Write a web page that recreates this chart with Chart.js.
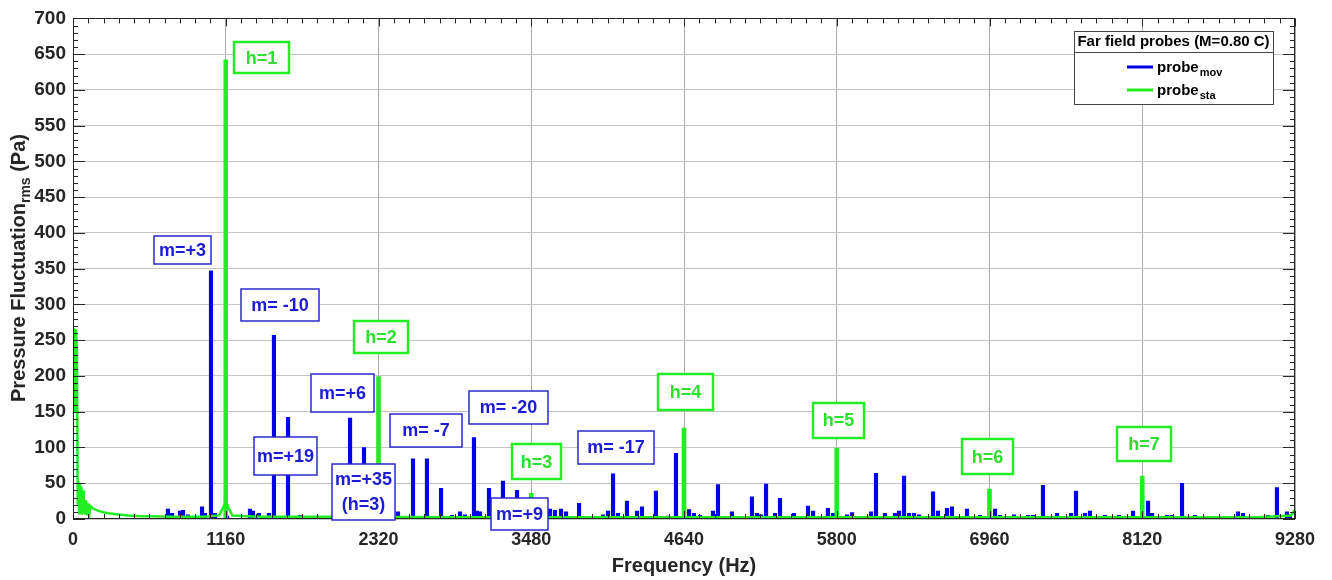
<!DOCTYPE html>
<html>
<head>
<meta charset="utf-8">
<script src="https://cdn.jsdelivr.net/npm/chart.js@4.4.1/dist/chart.umd.min.js"></script>
<style>
  html, body { margin: 0; padding: 0; background: #fff; }
  #wrap { width: 1332px; height: 580px; position: relative; }
</style>
</head>
<body>
<div id="wrap"><canvas id="spectrum"></canvas></div>
<script>
// tick labels
const xTicks = [0, 1160, 2320, 3480, 4640, 5800, 6960, 8120, 9280];
const yTicks = [0, 50, 100, 150, 200, 250, 300, 350, 400, 450, 500, 550, 600, 650, 700];

// probe_mov (blue) tonal peaks, Hz / Pa
const movFreq = [721, 752, 813, 835, 873, 980, 1002, 1048, 1078, 1170, 1344, 1367, 1412, 1488, 1526, 1633, 1724,
  2104, 2210, 2468, 2582, 2688, 2795, 2878, 2939, 2977, 3045, 3068, 3091, 3159, 3265, 3372,
  3622, 3660, 3706, 3744, 3843, 4025, 4063, 4101, 4139, 4207, 4283, 4321, 4427, 4519, 4579, 4678, 4716, 4762,
  4860, 4898, 5004, 5156, 5194, 5225, 5263, 5331, 5369, 5475, 5582, 5620, 5733, 5771, 5878, 5916,
  6060, 6098, 6166, 6242, 6273, 6311, 6349, 6387, 6425, 6531, 6569, 6637, 6675, 6789, 6888, 7002, 7040, 7146,
  7252, 7290, 7366, 7473, 7579, 7617, 7685, 7723, 7837, 7943, 8050, 8164, 8194, 8308, 8346, 8422, 8520,
  8847, 8885, 9075, 9143, 9219, 9242];
const movAmp = [14, 8, 11, 12, 6, 17, 8, 347, 8, 4, 14, 11, 8, 8, 257, 142, 5,
  141, 100, 10, 84, 84, 43, 5, 10, 6, 114, 11, 10, 43, 53, 40,
  14, 12, 14, 10, 22, 6, 11, 63, 8, 25, 11, 17, 39, 4, 92, 13, 8, 5,
  11, 48, 10, 31, 8, 6, 49, 8, 29, 8, 18, 11, 15, 8, 6, 9,
  10, 64, 8, 8, 11, 60, 8, 8, 6, 38, 11, 15, 17, 14, 5, 14, 5, 6,
  5, 5, 47, 8, 8, 39, 8, 11, 5, 5, 11, 25, 8, 5, 5, 50, 5,
  10, 8, 5, 44, 10, 6];

// probe_sta (green) harmonics h=1..7
const staPeakFreq = [1160, 2320, 3480, 4640, 5800, 6960, 8120];
const staPeakAmp = [642, 199, 36, 127, 99, 42, 60];

// probe_sta broadband part (low-frequency content and floor)
const staFloorFreq = [0, 10, 16, 22, 30, 36, 40, 46, 52, 58, 64, 70, 76, 82, 88, 94, 100, 108, 116, 124, 132,
  150, 170, 200, 240, 270, 330, 420, 520, 600, 750, 1000, 1110, 1140, 1160, 1180, 1210, 1400, 2000, 3000,
  4000, 5000, 6000, 7000, 8000, 9000, 9250, 9280];
const staFloorAmp = [265, 265, 150, 265, 240, 20, 53, 8, 50, 10, 45, 6, 40, 8, 27, 6, 26, 5, 22, 6, 18,
  15, 13, 11, 9, 8, 6.5, 5, 4, 4, 3, 3, 5, 16, 24, 16, 5, 3, 3, 2.5,
  2.5, 2.5, 2.5, 2.5, 2.5, 2.5, 5, 13];

const BLUE = '#0000e6';
const GREEN = '#22ee22';
const INK = '#262626';
const FONT = '"Liberation Sans", Arial, Helvetica, sans-serif';

// mode labels: centre in data units, box size in px
const notes = [
  { text: ['h=1'], f: 1431, v: 645, w: 55, h: 31, c: 'g' },
  { text: ['m=+3'], f: 832, v: 376, w: 57, h: 28, c: 'b' },
  { text: ['m= -10'], f: 1572, v: 299, w: 78, h: 32, c: 'b' },
  { text: ['h=2'], f: 2339, v: 254, w: 54, h: 32, c: 'g' },
  { text: ['m=+6'], f: 2047, v: 176, w: 63, h: 38, c: 'b' },
  { text: ['m=+19'], f: 1614, v: 88, w: 63, h: 38, c: 'b' },
  { text: ['m=+35', '(h=3)'], f: 2206, v: 38, w: 63, h: 56, c: 'b' },
  { text: ['m= -7'], f: 2681, v: 124, w: 72, h: 33, c: 'b' },
  { text: ['m= -20'], f: 3307, v: 156, w: 79, h: 33, c: 'b' },
  { text: ['h=3'], f: 3520, v: 80, w: 49, h: 35, c: 'g' },
  { text: ['m=+9'], f: 3391, v: 7, w: 57, h: 32, c: 'b' },
  { text: ['m= -17'], f: 4124, v: 100, w: 76, h: 33, c: 'b' },
  { text: ['h=4'], f: 4651, v: 177, w: 55, h: 36, c: 'g' },
  { text: ['h=5'], f: 5813, v: 138, w: 51, h: 35, c: 'g' },
  { text: ['h=6'], f: 6945, v: 87, w: 51, h: 35, c: 'g' },
  { text: ['h=7'], f: 8133, v: 105, w: 54, h: 34, c: 'g' },
];

const frame = {
  id: 'frame',
  afterDatasetsDraw(chart) {
    const { ctx, chartArea: a, scales: { x, y } } = chart;
    ctx.save();
    ctx.strokeStyle = INK;
    ctx.lineWidth = 1;
    ctx.beginPath();
    for (let f = 0; f <= 9280; f += 116) {
      const px = Math.round(x.getPixelForValue(f)) + 0.5;
      const len = f % 1160 === 0 ? 8 : 5;
      ctx.moveTo(px, a.bottom); ctx.lineTo(px, a.bottom - len);
      ctx.moveTo(px, a.top); ctx.lineTo(px, a.top + len);
    }
    for (let v = 0; v <= 700; v += 10) {
      const py = Math.round(y.getPixelForValue(v)) + 0.5;
      const len = v % 50 === 0 ? 12 : 5;
      ctx.moveTo(a.left, py); ctx.lineTo(a.left + len, py);
      ctx.moveTo(a.right, py); ctx.lineTo(a.right - len, py);
    }
    ctx.stroke();
    ctx.strokeRect(Math.round(a.left) + 0.5, Math.round(a.top) + 0.5, Math.round(a.width) - 1, Math.round(a.height) - 1);

    // labels on the peaks
    ctx.font = 'bold 18px ' + FONT;
    ctx.textAlign = 'center';
    ctx.textBaseline = 'middle';
    notes.forEach(n => {
      const cx = x.getPixelForValue(n.f), cy = y.getPixelForValue(n.v);
      const l = Math.round(cx - n.w / 2), t = Math.round(cy - n.h / 2);
      ctx.fillStyle = '#fff';
      ctx.fillRect(l, t, n.w, n.h);
      ctx.strokeStyle = n.c === 'b' ? '#2a2ac8' : GREEN;
      ctx.lineWidth = n.c === 'b' ? 1.5 : 2.5;
      ctx.strokeRect(l, t, n.w, n.h);
      ctx.fillStyle = n.c === 'b' ? '#1c1cd2' : '#2ee02e';
      n.text.forEach((s, k) => ctx.fillText(s, cx, cy + 1 + (k - (n.text.length - 1) / 2) * 25));
    });
    ctx.restore();
  },
  afterDraw(chart) {
    const { ctx, chartArea: a } = chart;
    ctx.save();
    ctx.fillStyle = INK;
    // x title
    ctx.font = 'bold 20px ' + FONT;
    ctx.textAlign = 'center';
    ctx.textBaseline = 'middle';
    ctx.fillText('Frequency (Hz)', (a.left + a.right) / 2, 566);
    // y title with subscript
    const main1 = 'Pressure Fluctuation', sub = 'rms', main2 = ' (Pa)';
    ctx.font = 'bold 20px ' + FONT;
    const w1 = ctx.measureText(main1).width, w3 = ctx.measureText(main2).width;
    ctx.font = 'bold 14px ' + FONT;
    const w2 = ctx.measureText(sub).width;
    const total = w1 + w2 + w3;
    ctx.translate(25, 268);
    ctx.rotate(-Math.PI / 2);
    ctx.textAlign = 'left';
    ctx.textBaseline = 'alphabetic';
    let sx = -total / 2;
    ctx.font = 'bold 20px ' + FONT;
    ctx.fillText(main1, sx, 0); sx += w1;
    ctx.font = 'bold 14px ' + FONT;
    ctx.fillText(sub, sx, 5); sx += w2;
    ctx.font = 'bold 20px ' + FONT;
    ctx.fillText(main2, sx, 0);
    ctx.restore();

    // legend
    ctx.save();
    const L = 1074, T = 31, W = 199, H = 73;
    ctx.fillStyle = '#fff';
    ctx.fillRect(L, T, W, H);
    ctx.strokeStyle = '#444';
    ctx.lineWidth = 1;
    ctx.strokeRect(L + 0.5, T + 0.5, W, H);
    ctx.beginPath(); ctx.moveTo(L, T + 21.5); ctx.lineTo(L + W, T + 21.5); ctx.stroke();
    ctx.fillStyle = '#000';
    ctx.font = 'bold 15px ' + FONT;
    ctx.textAlign = 'center';
    ctx.textBaseline = 'middle';
    ctx.fillText('Far field probes (M=0.80 C)', L + W / 2, T + 11);
    [[BLUE, 'mov', 67], [GREEN, 'sta', 90]].forEach(([col, s, ly]) => {
      ctx.strokeStyle = col; ctx.lineWidth = 3;
      ctx.beginPath(); ctx.moveTo(1127, ly); ctx.lineTo(1153, ly); ctx.stroke();
      ctx.fillStyle = '#000';
      ctx.textAlign = 'left';
      ctx.textBaseline = 'alphabetic';
      ctx.font = 'bold 15px ' + FONT;
      ctx.fillText('probe', 1157, ly + 5);
      const pw = ctx.measureText('probe').width;
      ctx.font = 'bold 11px ' + FONT;
      ctx.fillText(s, 1157 + pw + 1, ly + 9);
    });
    ctx.restore();
  }
};

Chart.defaults.font.family = FONT;
Chart.defaults.color = INK;

new Chart(document.getElementById('spectrum'), {
  type: 'bar',
  data: {
    datasets: [
      {
        type: 'line',
        label: 'probe_sta floor',
        data: staFloorFreq.map((f, i) => ({ x: f, y: staFloorAmp[i] })),
        borderColor: GREEN,
        borderWidth: 2.5,
        pointRadius: 0,
        tension: 0,
        order: 0,
      },
      {
        label: 'probe_sta',
        data: staPeakFreq.map((f, i) => ({ x: f, y: staPeakAmp[i] })),
        backgroundColor: GREEN,
        barThickness: 4,
        grouped: false,
        order: 1,
      },
      {
        label: 'probe_mov',
        data: movFreq.map((f, i) => ({ x: f, y: movAmp[i] })),
        backgroundColor: BLUE,
        barThickness: 3.5,
        grouped: false,
        order: 2,
      },
    ],
  },
  options: {
    responsive: true,
    maintainAspectRatio: false,
    animation: false,
    events: [],
    layout: { padding: { top: 18, right: 37, left: 0, bottom: 0 } },
    plugins: { legend: { display: false }, tooltip: { enabled: false } },
    scales: {
      x: {
        type: 'linear',
        min: 0,
        max: 9280,
        offset: false,
        afterBuildTicks: s => { s.ticks = xTicks.map(v => ({ value: v })); },
        afterFit: s => { s.height = 61; },
        ticks: { font: { size: 18, weight: 'bold' }, color: INK, padding: 10, maxRotation: 0, callback: v => String(v) },
        grid: { offset: false, color: '#a9a9a9', drawTicks: false },
        border: { display: false },
      },
      y: {
        min: 0,
        max: 700,
        afterBuildTicks: s => { s.ticks = yTicks.map(v => ({ value: v })); },
        afterFit: s => { s.width = 73; },
        ticks: { font: { size: 19, weight: 'bold' }, color: INK, padding: 7, callback: v => String(v) },
        grid: { color: '#c4c4c4', drawTicks: false },
        border: { display: false },
      },
    },
  },
  plugins: [frame],
});
</script>
</body>
</html>
